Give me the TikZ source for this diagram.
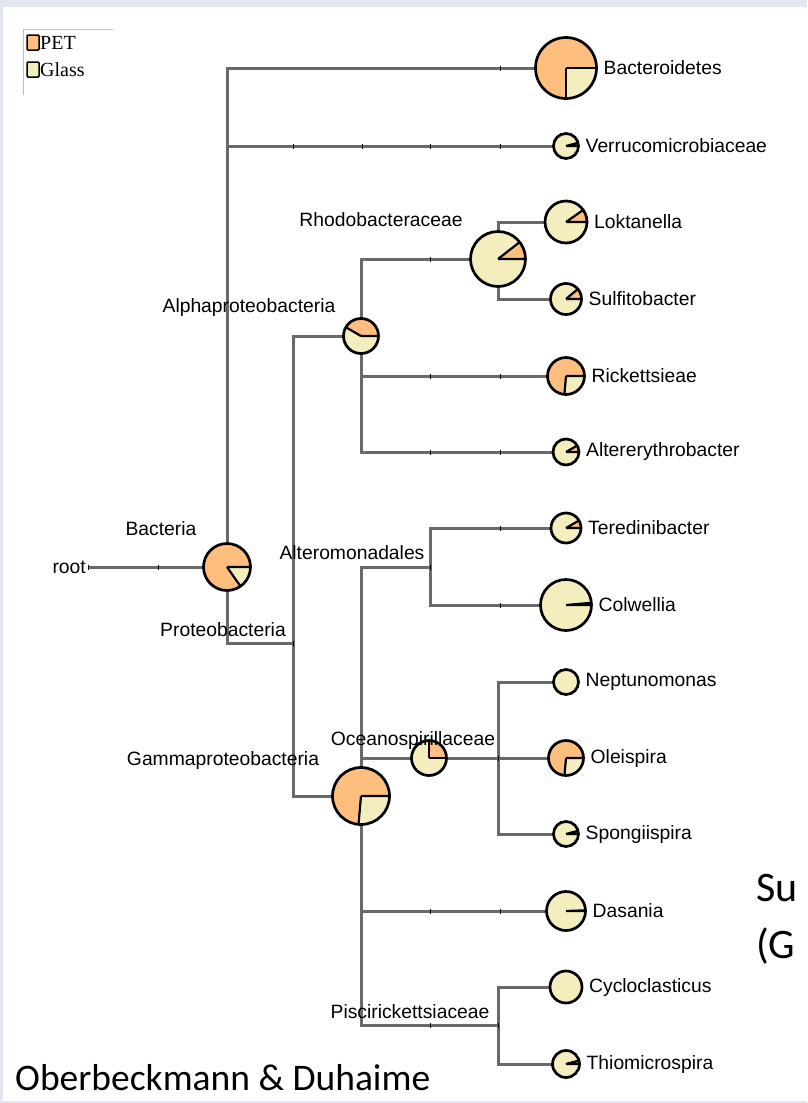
\documentclass[tikz,border=0pt]{standalone}
\usepackage{fontspec}
\setmainfont{Liberation Sans}
\newfontfamily\legendfont{Liberation Serif}
\newfontfamily\slidefont{Carlito}
\usetikzlibrary{positioning}
\definecolor{petcol}{RGB}{254,190,125}
\definecolor{glasscol}{RGB}{244,238,190}
\definecolor{branchcol}{RGB}{105,105,105}
\definecolor{framecol}{RGB}{226,231,239}
\tikzset{
  branch/.style={draw=branchcol, line width=3pt},
  pie/.style={circle, inner sep=0pt, outer sep=0pt, minimum size=#1},
  taxon/.style={font=\fontsize{19.3}{21}\selectfont, inner sep=1pt},
  leaf/.style={taxon, right=6pt of #1},
  tickmark/.style={draw=black, line width=1pt},
}
% pie: node, radius, PET angle
\newcommand{\drawpie}[3]{%
  \fill[glasscol] (#1.center) circle (#2);
  \ifnum#3>0
    \fill[petcol] (#1.center) -- ++(0:#2) arc (0:-#3:#2) -- cycle;
    \draw[line width=2.2pt] (#1.center) -- ++(0:#2) (#1.center) -- ++(-#3:#2);
  \fi
  \draw[line width=2.7pt] (#1.center) circle (#2);
}

\begin{document}
\begin{tikzpicture}[x=1pt, y=-1pt]
\useasboundingbox (0,0) rectangle (807,1103);
\clip (0,0) rectangle (807,1103);
% Frame
    \fill[framecol] (0,0) rectangle (807,1103);
    \fill[white] (3,7) rectangle (807,1101);
% Legend
    \draw[gray!50, line width=1pt] (113,29) -- (23,29) -- (23,95);
    \draw[fill=petcol, line width=1.5pt, rounded corners=1pt] (27,35) rectangle (39,50);
    \draw[fill=glasscol, line width=1.5pt, rounded corners=1pt] (27,62) rectangle (39,77);
    \node[anchor=west, inner sep=1pt, font=\legendfont\fontsize{20}{22}\selectfont] (pet-l) at (39,43) {PET};
    \node[anchor=west, inner sep=1pt, font=\legendfont\fontsize{20}{22}\selectfont] (glass-l) at (39,70) {Glass};
% Nodes
    \coordinate (root) at (88,567);
    \node[pie=47pt] (bact) at (227,567) {};
    \node[pie=61pt] (bactd) at (566,68) {};
    \node[pie=25pt] (verr) at (566,146) {};
    \coordinate (proteo) at (293,643);
    \node[pie=35pt] (alpha) at (361,336) {};
    \node[pie=55pt] (rhodo) at (498,259) {};
    \node[pie=42pt] (lokt) at (566,222) {};
    \node[pie=31pt] (sulfi) at (566,299) {};
    \node[pie=37pt] (rick) at (566,376) {};
    \node[pie=26pt] (alter) at (566,452) {};
    \node[pie=57pt] (gamma) at (361,796) {};
    \coordinate (altero) at (430,567);
    \node[pie=30pt] (tered) at (566,528) {};
    \node[pie=51pt] (colw) at (566,605) {};
    \node[pie=35pt] (oceano) at (429,758) {};
    \coordinate (oceanode) at (498,758);
    \node[pie=25pt] (nept) at (566,682) {};
    \node[pie=35pt] (olei) at (566,758) {};
    \node[pie=25pt] (spong) at (566,834) {};
    \node[pie=39pt] (dasan) at (566,911) {};
    \coordinate (pisci) at (498,1025);
    \node[pie=32pt] (cyclo) at (566,987) {};
    \node[pie=27pt] (thio) at (566,1064) {};
% Branches
    \draw[branch] (root) -- (bact);
    \draw[branch] (bact) |- (bactd);
    \draw[branch] (bact) |- (verr);
    \draw[branch] (bact) |- (proteo);
    \draw[branch] (proteo) |- (alpha);
    \draw[branch] (proteo) |- (gamma);
    \draw[branch] (alpha) |- (rhodo);
    \draw[branch] (alpha) |- (rick);
    \draw[branch] (alpha) |- (alter);
    \draw[branch] (rhodo) |- (lokt);
    \draw[branch] (rhodo) |- (sulfi);
    \draw[branch] (gamma) |- (altero);
    \draw[branch] (altero) |- (tered);
    \draw[branch] (altero) |- (colw);
    \draw[branch] (gamma) |- (oceano);
    \draw[branch] (oceano) -- (oceanode);
    \draw[branch] (oceanode) |- (nept);
    \draw[branch] (oceanode) |- (olei);
    \draw[branch] (oceanode) |- (spong);
    \draw[branch] (gamma) |- (dasan);
    \draw[branch] (gamma) |- (pisci);
    \draw[branch] (pisci) |- (cyclo);
    \draw[branch] (pisci) |- (thio);
% Ticks
    \foreach \tx/\ty in {88/567, 158/567, 500/68, 293/146, 362/146, 430/146, 500/146,
        430/259, 430/376, 500/376, 430/452, 500/452, 293/643, 430/567, 500/528,
        500/605, 498/758, 430/911, 500/911, 430/1025, 498/1025}
        \draw[tickmark] (\tx,\ty-2.5) -- (\tx,\ty+2.5);
% Pies
    \drawpie{bact}{23.5}{305}
    \drawpie{bactd}{30.5}{270}
    \drawpie{verr}{12.5}{15}
    \drawpie{alpha}{17.5}{150}
    \drawpie{rhodo}{27.5}{38}
    \drawpie{lokt}{21}{35}
    \drawpie{sulfi}{15.5}{40}
    \drawpie{rick}{18.5}{265}
    \drawpie{alter}{13}{30}
    \drawpie{gamma}{28.5}{265}
    \drawpie{tered}{15}{30}
    \drawpie{colw}{25.5}{5}
    \drawpie{oceano}{17.5}{90}
    \drawpie{nept}{12.5}{0}
    \drawpie{olei}{17.5}{265}
    \drawpie{spong}{12.5}{15}
    \drawpie{dasan}{19.5}{2}
    \drawpie{cyclo}{16}{0}
    \drawpie{thio}{13.5}{15}
% Labels
    \node[taxon, left=1pt of root] (root-l) {root};
    \node[taxon] (bact-l) at (161,529) {Bacteria};
    \node[taxon] (proteo-l) at (223,630) {Proteobacteria};
    \node[taxon] (alpha-l) at (249,308) {Alphaproteobacteria};
    \node[taxon] (rhodo-l) at (381,220) {Rhodobacteraceae};
    \node[taxon] (altero-l) at (352,553) {Alteromonadales};
    \node[taxon] (gamma-l) at (223,760) {Gammaproteobacteria};
    \node[taxon] (oceano-l) at (413,741) {Oceanospirillaceae};
    \node[taxon] (pisci-l) at (410,1012) {Piscirickettsiaceae};
    \node[leaf=bactd] (bactd-l) {Bacteroidetes};
    \node[leaf=verr] (verr-l) {Verrucomicrobiaceae};
    \node[leaf=lokt] (lokt-l) {Loktanella};
    \node[leaf=sulfi] (sulfi-l) {Sulfitobacter};
    \node[leaf=rick] (rick-l) {Rickettsieae};
    \node[leaf=alter] (alter-l) {Altererythrobacter};
    \node[leaf=tered] (tered-l) {Teredinibacter};
    \node[leaf=colw] (colw-l) {Colwellia};
    \node[leaf=nept] (nept-l) {Neptunomonas};
    \node[leaf=olei] (olei-l) {Oleispira};
    \node[leaf=spong] (spong-l) {Spongiispira};
    \node[leaf=dasan] (dasan-l) {Dasania};
    \node[leaf=cyclo] (cyclo-l) {Cycloclasticus};
    \node[leaf=thio] (thio-l) {Thiomicrospira};
% Slide text
    \node[anchor=base west, inner sep=0pt, font=\slidefont\fontsize{37.5}{40}\selectfont] (credit) at (15,1090) {Oberbeckmann \& Duhaime};
    \node[anchor=base west, inner sep=0pt, font=\slidefont\fontsize{42}{44}\selectfont] (side-a) at (756,901) {Su};
    \node[anchor=base west, inner sep=0pt, font=\slidefont\fontsize{42}{44}\selectfont] (side-b) at (756,958) {(G};
\end{tikzpicture}
\end{document}
